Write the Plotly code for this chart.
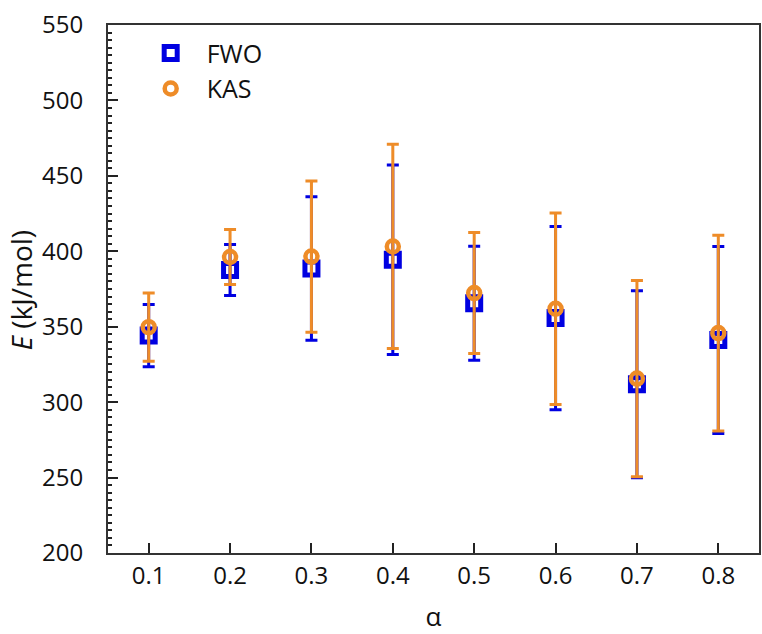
import plotly.graph_objects as go

alpha = [0.1, 0.2, 0.3, 0.4, 0.5, 0.6, 0.7, 0.8]
fwo_E = [344.1, 387.6, 388.6, 394.4, 365.6, 355.7, 311.8, 341.2]
fwo_err = [20.7, 16.9, 47.6, 62.8, 37.8, 60.7, 62.0, 62.0]
kas_E = [349.7, 396.2, 396.5, 403.2, 372.3, 361.9, 315.6, 345.8]
kas_err = [22.6, 18.2, 50.1, 67.7, 40.1, 63.5, 65.1, 64.9]
x_ticks = [0.1, 0.2, 0.3, 0.4, 0.5, 0.6, 0.7, 0.8]
y_ticks = [200, 250, 300, 350, 400, 450, 500, 550]

BLUE = "rgb(0,0,225)"
ORANGE = "rgb(238,140,40)"
FONT = "Open Sans"
TXT = "#111"

fig = go.Figure()
fig.add_trace(go.Scatter(
    x=alpha, y=fwo_E, mode="markers", name="FWO",
    marker=dict(symbol="square-open", size=13, color=BLUE, line=dict(width=5, color=BLUE)),
    error_y=dict(type="data", array=fwo_err, visible=True, color=BLUE, thickness=3, width=6),
))
fig.add_trace(go.Scatter(
    x=alpha, y=kas_E, mode="markers", name="KAS",
    marker=dict(symbol="circle-open", size=12, color=ORANGE, line=dict(width=4.5, color=ORANGE)),
    error_y=dict(type="data", array=kas_err, visible=True, color=ORANGE, thickness=3, width=6),
))

fig.update_layout(
    width=762, height=634,
    margin=dict(l=108, r=1, t=25, b=81),
    plot_bgcolor="white", paper_bgcolor="white",
    font=dict(family=FONT, size=24, color=TXT),
    showlegend=True,
    legend=dict(x=0.041, y=0.99, xanchor="left", yanchor="top",
                font=dict(size=25, family=FONT, color=TXT),
                bgcolor="rgba(0,0,0,0)", itemwidth=62),
    xaxis=dict(range=[0.05, 0.85], tickvals=x_ticks, ticktext=[f"{v:.1f}" for v in x_ticks],
               ticks="inside", ticklen=10, tickwidth=2, tickcolor="#222",
               showline=True, linewidth=2, linecolor="#333", mirror=True,
               showgrid=False, zeroline=False,
               tickfont=dict(size=24, family=FONT, color=TXT),
               title=dict(text="α", font=dict(size=26, family=FONT, color=TXT), standoff=18)),
    yaxis=dict(range=[200, 550], tickvals=y_ticks,
               ticks="inside", ticklen=10, tickwidth=2, tickcolor="#222",
               minor=dict(dtick=5, ticks="inside", ticklen=4, tickwidth=1.5, tickcolor="#222"),
               showline=True, linewidth=2, linecolor="#333", mirror=True,
               showgrid=False, zeroline=False, ticklabelstandoff=18,
               tickfont=dict(size=24, family=FONT, color=TXT)),
)
fig.add_annotation(text="<i>E</i> (kJ/mol)", xref="paper", yref="paper",
                   x=-0.133, xanchor="center", y=0.498, yanchor="middle",
                   showarrow=False, textangle=-90,
                   font=dict(size=28, family=FONT, color=TXT))

fig.write_html("out.html")
